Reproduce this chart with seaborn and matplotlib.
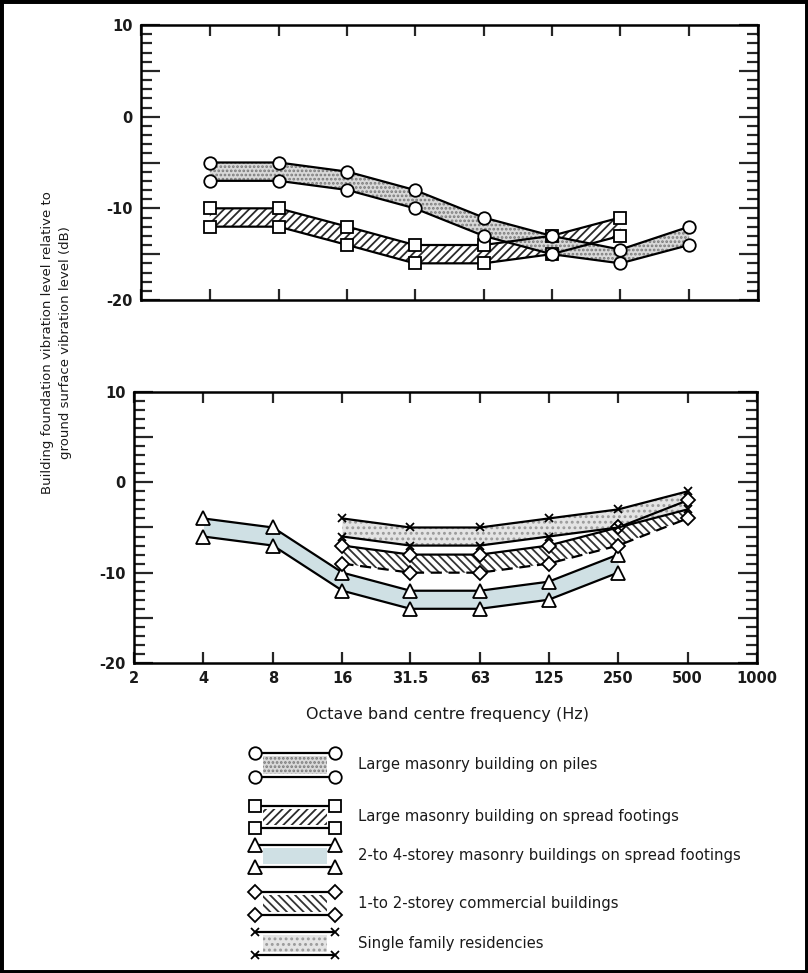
import numpy as np
import pandas as pd
import matplotlib
matplotlib.use("Agg")
import matplotlib.pyplot as plt
import seaborn as sns
from matplotlib.ticker import MultipleLocator, FixedLocator, FuncFormatter, NullFormatter
from matplotlib.patches import Rectangle

# ---------------- data ----------------
xtick_values = [2, 4, 8, 16, 31.5, 63, 125, 250, 500, 1000]
xtick_labels = ["2", "4", "8", "16", "31.5", "63", "125", "250", "500", "1000"]

# top panel
freq_piles = [4, 8, 16, 31.5, 63, 125, 250, 500]
piles_upper = [-5, -5, -6, -8, -11, -13, -14.5, -12]
piles_lower = [-7, -7, -8, -10, -13, -15, -16, -14]

freq_spread = [4, 8, 16, 31.5, 63, 125, 250]
spread_upper = [-10, -10, -12, -14, -14, -13, -11]
spread_lower = [-12, -12, -14, -16, -16, -15, -13]

# bottom panel
freq_storey = [4, 8, 16, 31.5, 63, 125, 250]
storey_upper = [-4, -5, -10, -12, -12, -11, -8]
storey_lower = [-6, -7, -12, -14, -14, -13, -10]

freq_comm = [16, 31.5, 63, 125, 250, 500]
comm_upper = [-7, -8, -8, -7, -5, -2]
comm_lower = [-9, -10, -10, -9, -7, -4]

freq_res = [16, 31.5, 63, 125, 250, 500]
res_upper = [-4, -5, -5, -4, -3, -1]
res_lower = [-6, -7, -7, -6, -5, -3]

legend_labels = [
    "Large masonry building on piles",
    "Large masonry building on spread footings",
    "2-to 4-storey masonry buildings on spread footings",
    "1-to 2-storey commercial buildings",
    "Single family residencies",
]

# ---------------- style ----------------
sns.set_style("ticks")
plt.rcParams["font.family"] = ["DejaVu Sans"]
plt.rcParams["axes.unicode_minus"] = False
plt.rcParams["hatch.linewidth"] = 1.3

W, H = 808, 973
fig = plt.figure(figsize=(W / 100, H / 100), dpi=100)
fig.patch.set_facecolor("white")


def px_axes(left, top, right, bottom):
    return fig.add_axes([left / W, 1 - bottom / H, (right - left) / W, (bottom - top) / H])


STYLES = {
    "piles": dict(marker="o", ms=9, face="#d9d9d9", hatch="....", hec="#7a7a7a", ls_lo="-"),
    "spread": dict(marker="s", ms=8.5, face="white", hatch="////", hec="#2a2a2a", ls_lo="-"),
    "storey": dict(marker="^", ms=9.5, face="#cfe0e4", hatch=None, hec="#cfe0e4", ls_lo="-"),
    "comm": dict(marker="D", ms=7.5, face="white", hatch="\\\\\\\\", hec="#333333", ls_lo=(0, (5, 3))),
    "res": dict(marker="x", ms=6, face="#e4e4e4", hatch="...", hec="#9a9a9a", ls_lo="-"),
}


def band(ax, x, lo, hi, key):
    st = STYLES[key]
    ax.fill_between(x, lo, hi, facecolor=st["face"], hatch=st["hatch"],
                    edgecolor=st["hec"], linewidth=0, zorder=2)
    df = pd.DataFrame({"f": x, "hi": hi, "lo": lo})
    for col, ls in (("hi", "-"), ("lo", st["ls_lo"])):
        sns.lineplot(data=df, x="f", y=col, ax=ax, color="black", linewidth=1.6,
                     linestyle=ls, marker=st["marker"], markersize=st["ms"],
                     markerfacecolor="white", markeredgecolor="black",
                     markeredgewidth=1.3, zorder=4, sort=False)


def style_axes(ax, show_xlabels):
    ax.set_xscale("log", base=2)
    ax.set_xlim(2, 1000)
    ax.set_ylim(-20, 10)
    ax.xaxis.set_major_locator(FixedLocator(xtick_values))
    ax.xaxis.set_minor_locator(FixedLocator([]))
    if show_xlabels:
        ax.set_xticklabels(xtick_labels)
    else:
        ax.xaxis.set_major_formatter(NullFormatter())
    ax.yaxis.set_major_locator(MultipleLocator(5))
    ax.yaxis.set_minor_locator(MultipleLocator(1))
    ax.yaxis.set_major_formatter(FuncFormatter(lambda v, p: f"{int(round(v))}" if abs(v) % 10 < 1e-6 else ""))
    ax.tick_params(axis="x", which="major", direction="in", length=8, width=1.6,
                   top=True, bottom=True, labelsize=10.5, pad=6)
    ax.tick_params(axis="y", which="major", direction="in", length=14, width=1.6,
                   left=True, right=True, labelsize=10.5, pad=6)
    ax.tick_params(axis="y", which="minor", direction="in", length=8, width=1.6,
                   left=True, right=True)
    for lab in ax.get_xticklabels() + ax.get_yticklabels():
        lab.set_fontweight("bold")
        lab.set_color("#1a1a1a")
    for sp in ax.spines.values():
        sp.set_visible(True)
        sp.set_linewidth(1.8)
        sp.set_color("black")
    ax.set_xlabel("")
    ax.set_ylabel("")
    ax.set_facecolor("white")


# ---------------- top panel ----------------
ax1 = px_axes(141, 25, 758, 300)
ax1.set_xscale("log", base=2)
band(ax1, freq_spread, spread_lower, spread_upper, "spread")
band(ax1, freq_piles, piles_lower, piles_upper, "piles")
style_axes(ax1, False)

# ---------------- bottom panel ----------------
ax2 = px_axes(134, 392, 757, 663)
ax2.set_xscale("log", base=2)
band(ax2, freq_storey, storey_lower, storey_upper, "storey")
band(ax2, freq_comm, comm_lower, comm_upper, "comm")
band(ax2, freq_res, res_lower, res_upper, "res")
style_axes(ax2, True)

fig.text(447 / W, 1 - 714 / H, "Octave band centre frequency (Hz)", ha="center", va="center",
         fontsize=11.5, color="#1a1a1a")
fig.text(57 / W, 1 - 343 / H,
         "Building foundation vibration level relative to\nground surface vibration level (dB)",
         rotation=90, ha="center", va="center", fontsize=9.5, linespacing=1.5, color="#1a1a1a")

# ---------------- legend ----------------
axl = px_axes(230, 730, 800, 970)
axl.set_xlim(230, 800)
axl.set_ylim(970, 730)
axl.axis("off")
rows = [("piles", 753, 777), ("spread", 806, 828), ("storey", 845, 867),
        ("comm", 892, 915), ("res", 932, 955)]
x0, x1 = 255, 335
for (key, yt, yb), label in zip(rows, legend_labels):
    st = STYLES[key]
    axl.fill_between([x0 + 8, x1 - 8], [yb - 3, yb - 3], [yt + 3, yt + 3],
                     facecolor=st["face"], hatch=st["hatch"], edgecolor=st["hec"],
                     linewidth=0, zorder=2)
    for yy in (yt, yb):
        axl.plot([x0, x1], [yy, yy], color="black", lw=1.6, marker=st["marker"],
                 ms=st["ms"], mfc="white", mec="black", mew=1.3, zorder=3)
    axl.text(358, (yt + yb) / 2, label, ha="left", va="center", fontsize=10.7, color="#1a1a1a")

# outer frame
fig.add_artist(Rectangle((0, 0), 1, 1, transform=fig.transFigure, fill=False,
                         edgecolor="black", linewidth=5, zorder=10))

fig.savefig("out.png", dpi=100)
